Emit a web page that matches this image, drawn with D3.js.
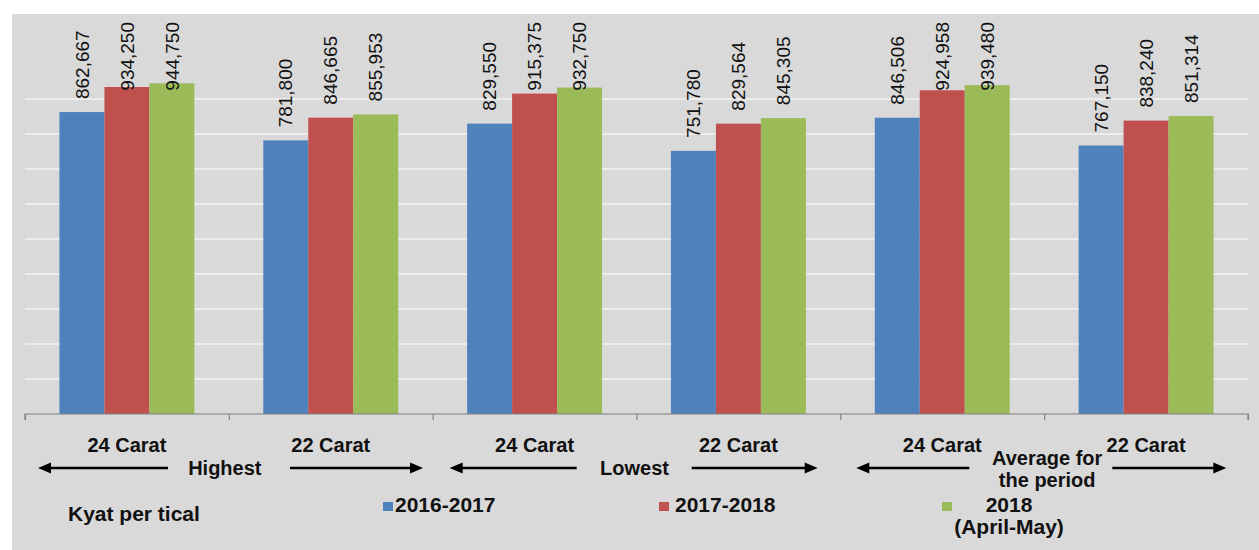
<!DOCTYPE html>
<html><head><meta charset="utf-8">
<script src="https://cdn.jsdelivr.net/npm/d3@7"></script>
<style>
html,body{margin:0;padding:0;background:#fff;}
svg text{font-family:Arial,"Liberation Sans",sans-serif;fill:#111;}
</style></head>
<body><svg id="c" width="1259" height="550"></svg>
<script>
const categories = ["24 Carat","22 Carat","24 Carat","22 Carat","24 Carat","22 Carat"];
const groups = [["Highest"],["Lowest"],["Average for","the period"]];
const seriesNames = [["2016-2017"],["2017-2018"],["2018","(April-May)"]];
const s2016 = [862667,781800,829550,751780,846506,767150];
const s2017 = [934250,846665,915375,829564,924958,838240];
const s2018 = [944750,855953,932750,845305,939480,851314];
const yTicks = [100000,200000,300000,400000,500000,600000,700000,800000,900000];
const unitLabel = "Kyat per tical";
const colors = ["#4f81bd","#c0504d","#9bbb59"];

const series = [s2016,s2017,s2018];
const svg = d3.select("#c");
svg.append("rect").attr("x",12).attr("y",14).attr("width",1259-12).attr("height",550-14).attr("fill","#d9d9d9");

const L=25,R=1248,B=414,T=64;
const y = d3.scaleLinear().domain([0,1000000]).range([B,T]);
const x0 = d3.scaleBand().domain(d3.range(categories.length)).range([L,R]).paddingInner(0.338).paddingOuter(0.169);
const x1 = d3.scaleBand().domain(d3.range(series.length)).range([0,x0.bandwidth()]);
const step = (R-L)/categories.length;

// gridlines
svg.append("g").selectAll("line").data(yTicks).join("line")
  .attr("x1",L).attr("x2",R).attr("y1",d=>y(d)).attr("y2",d=>y(d))
  .attr("stroke","#f2f2f2").attr("stroke-width",1.5);

// bars
const data = [];
categories.forEach((c,i)=>series.forEach((s,j)=>data.push({i,j,v:s[i]})));
svg.append("g").selectAll("rect").data(data).join("rect")
  .attr("x",d=>x0(d.i)+x1(d.j)).attr("width",x1.bandwidth())
  .attr("y",d=>y(d.v)).attr("height",d=>B-y(d.v)).attr("fill",d=>colors[d.j]);

// axis
const ax = d3.axisBottom(d3.scaleLinear().domain([0,categories.length]).range([L,R]))
  .tickValues(d3.range(categories.length+1)).tickSize(6).tickFormat("");
const axg = svg.append("g").attr("transform",`translate(0,${B})`).call(ax);
axg.selectAll("path,line").attr("stroke","#808080").attr("stroke-width",1.2);
axg.select(".domain").attr("d",`M${L},6V0H${R}V6`);

// data labels
const fmt = d3.format(",");
const lbl = svg.append("g").selectAll("text").data(data).join("text")
  .style("font-size","19px").attr("dy","0.35em")
  .text(d=>fmt(d.v));
lbl.each(function(d){
  const len = this.getComputedTextLength();
  const cx = x0(d.i)+x1(d.j)+x1.bandwidth()/2;
  const sy = Math.max(y(d.v)-13, 22+len);
  d3.select(this).attr("transform",`translate(${cx},${sy}) rotate(-90)`);
});

// category labels
svg.append("g").selectAll("text").data(categories).join("text")
  .attr("x",(d,i)=>x0(i)+x0.bandwidth()/2).attr("y",452)
  .attr("text-anchor","middle").style("font-size","20px").style("font-weight","bold").text(d=>d);

// group labels with arrows
const arrowOff = [[13,143,265,398,-4],[17,144,259,385,-2],[16,129,272,386,3]];
const gg = svg.append("g");
function arrow(xa,xb,yy){ // line from xa to xb with head at xb
  const dir = Math.sign(xb-xa);
  gg.append("line").attr("x1",xa).attr("x2",xb-dir*10).attr("y1",yy).attr("y2",yy).attr("stroke","#000").attr("stroke-width",2.5);
  gg.append("path").attr("d",`M${xb},${yy}L${xb-dir*13},${yy-5.5}L${xb-dir*13},${yy+5.5}Z`).attr("fill","#000");
}
groups.forEach((g,k)=>{
  const gl = L+k*2*step, o = arrowOff[k];
  arrow(gl+o[1],gl+o[0],468);
  arrow(gl+o[2],gl+o[3],468);
  const cx = gl+step+o[4];
  const t = gg.append("text").attr("text-anchor","middle").style("font-size","20px").style("font-weight","bold");
  if(g.length===1){ t.append("tspan").attr("x",cx).attr("y",475).text(g[0]); }
  else { g.forEach((line,m)=>t.append("tspan").attr("x",cx).attr("y",465+m*22).text(line)); }
});

// legend
svg.append("text").attr("x",68).attr("y",521).style("font-size","21px").style("font-weight","bold").text(unitLabel);
const legX = [[383,395],[659,675],[942,1009]];
seriesNames.forEach((n,j)=>{
  svg.append("rect").attr("x",legX[j][0]).attr("y",502).attr("width",10).attr("height",9).attr("fill",colors[j]);
  const t = svg.append("text").style("font-size","21px").style("font-weight","bold")
    .attr("text-anchor", n.length>1?"middle":"start");
  n.forEach((line,m)=>t.append("tspan").attr("x",legX[j][1]).attr("y",512+m*22).text(line));
});
</script></body></html>
